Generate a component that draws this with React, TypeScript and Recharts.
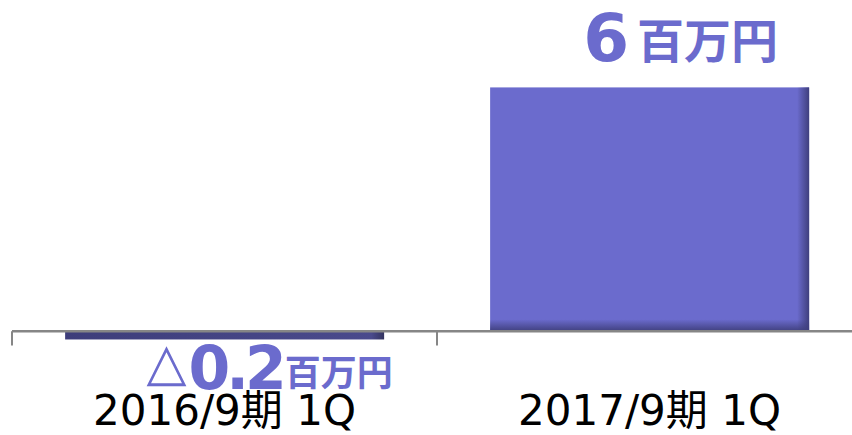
import React from 'react';
import { BarChart, Bar, XAxis, YAxis, ReferenceLine, LabelList } from 'recharts';

const categories = ['2016/9期 1Q', '2017/9期 1Q'];
const values = [-0.2, 6];
const valueText = ['△0.2', '6'];

const data = categories.map((c, i) => ({ name: c, value: values[i], text: valueText[i] }));

const PURPLE = '#6b6bcd';
const DARK = '#3f3f7d';
const JP = '"DejaVu Sans", "Noto Sans CJK JP", sans-serif';

const ShadedBar = (props: any) => {
  const { x, y, width, height, value } = props;
  const top = Math.min(y, y + height);
  const h = Math.abs(height);
  const neg = (Array.isArray(value) ? value[1] : value) < 0;
  if (neg) {
    return (
      <g>
        <defs>
          <linearGradient id="negShade" x1="0" y1="0" x2="1" y2="0">
            <stop offset="0%" stopColor="#3d3d7a" />
            <stop offset="96%" stopColor="#4a4a8c" />
            <stop offset="100%" stopColor="#33335f" />
          </linearGradient>
        </defs>
        <rect x={x} y={top} width={width} height={h} fill="url(#negShade)" />
      </g>
    );
  }
  const sw = 12;
  return (
    <g>
      <defs>
        <linearGradient id="shR" x1="0" y1="0" x2="1" y2="0">
          <stop offset="0%" stopColor={DARK} stopOpacity={0} />
          <stop offset="100%" stopColor={DARK} stopOpacity={1} />
        </linearGradient>
        <linearGradient id="shB" x1="0" y1="0" x2="0" y2="1">
          <stop offset="0%" stopColor={DARK} stopOpacity={0} />
          <stop offset="100%" stopColor={DARK} stopOpacity={1} />
        </linearGradient>
      </defs>
      <rect x={x} y={top} width={width} height={h} fill={PURPLE} />
      <rect x={x + width - sw} y={top} width={sw} height={h} fill="url(#shR)" />
      <rect x={x} y={top + h - sw} width={width} height={sw} fill="url(#shB)" />
    </g>
  );
};

const ValueLabel = (props: any) => {
  const { x, y, width, height, index } = props;
  const cx = x + width / 2;
  const top = Math.min(y, y + height);
  const bottom = Math.max(y, y + height);
  const text = valueText[index];
  if (values[index] < 0) {
    const [, num] = text.split('△');
    return (
      <text x={cx + 45} y={bottom + 50} textAnchor="middle" fill={PURPLE} fontFamily={JP}>
        <tspan fontSize={52} fontWeight="normal" dy={-9}>△</tspan>
        <tspan fontSize={60} fontWeight="bold" letterSpacing={-4} dx={2} dy={9}>{num}</tspan>
        <tspan fontSize={36} fontWeight="bold" dx={2} dy={-3}>百万円</tspan>
      </text>
    );
  }
  return (
    <text x={cx + 31} y={top - 26} textAnchor="middle" fill={PURPLE} fontFamily={JP} fontWeight="bold">
      <tspan fontSize={66}>{text}</tspan>
      <tspan fontSize={47} dx={8} dy={-3}>百万円</tspan>
    </text>
  );
};

export default function App() {
  return (
    <div style={{ position: 'absolute', left: 0, top: 0, width: 852, height: 435, overflow: 'hidden', background: '#fff' }}>
      <BarChart
        width={862}
        height={435}
        data={data}
        margin={{ top: 0, right: 0, left: 12, bottom: 0 }}
        barCategoryGap="12.5%"
      >
        <XAxis
          dataKey="name"
          height={63}
          axisLine={false}
          tickLine={false}
          tickSize={0}
          tickMargin={23}
          interval={0}
          tick={{ fill: '#000', fontSize: 42, fontFamily: JP }}
        />
        <YAxis hide domain={[-1, 8.15]} />
        <Bar dataKey="value" isAnimationActive={false} shape={<ShadedBar />}>
          <LabelList dataKey="text" content={<ValueLabel />} />
        </Bar>
        <ReferenceLine y={0} stroke="#868686" strokeWidth={2.5} />
        {categories.map((c) => (
          <ReferenceLine
            key={c}
            position="start"
            segment={[{ x: c, y: 0 }, { x: c, y: -0.35 }]}
            stroke="#868686"
            strokeWidth={2}
          />
        ))}
        <ReferenceLine
          position="end"
          segment={[
            { x: categories[categories.length - 1], y: 0 },
            { x: categories[categories.length - 1], y: -0.35 },
          ]}
          stroke="#868686"
          strokeWidth={2}
        />
      </BarChart>
    </div>
  );
}
